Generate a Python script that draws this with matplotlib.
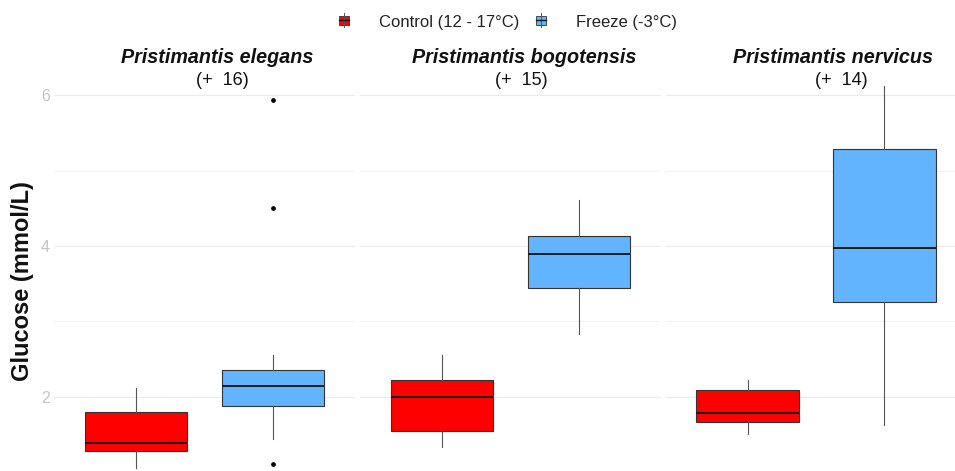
import matplotlib
matplotlib.use("Agg")
import matplotlib.pyplot as plt
from matplotlib.patches import Rectangle
from matplotlib.lines import Line2D

# ---------------- data ----------------
species = ["Pristimantis elegans", "Pristimantis bogotensis", "Pristimantis nervicus"]
n_labels = ["(+  16)", "(+  15)", "(+  14)"]
treatments = ["Control (12 - 17°C)", "Freeze (-3°C)"]
# per species: [control, freeze]
whislo = [[1.05, 1.44], [1.33, 2.83], [1.50, 1.62]]
q1 = [[1.28, 1.88], [1.55, 3.44], [1.67, 3.26]]
med = [[1.39, 2.14], [2.00, 3.89], [1.79, 3.98]]
q3 = [[1.80, 2.35], [2.22, 4.13], [2.09, 5.29]]
whishi = [[2.11, 2.56], [2.56, 4.61], [2.22, 6.12]]
outliers = [[[], [1.11, 4.50, 5.94]], [[], []], [[], []]]
yticks_major = [2, 4, 6]
yticks_minor = [3, 5]

# ---------------- style ----------------
colors = ["#FF0000", "#63B4FF"]
edge = "#333333"
FONT = "Liberation Sans"
W, H = 955, 471

fig = plt.figure(figsize=(W / 100, H / 100), dpi=100)

panel_left = [54, 360, 665.5]
panel_w = 301
top_px, bot_px = 84.8, 479.6
title_x = [217.5, 524.3, 832.7]
sub_x = [222, 521.7, 841.5]

for i, sp in enumerate(species):
    ax = fig.add_axes([panel_left[i] / W, 1 - bot_px / H, panel_w / W, (bot_px - top_px) / H])
    stats = []
    for j in range(2):
        stats.append(dict(whislo=whislo[i][j], q1=q1[i][j], med=med[i][j], q3=q3[i][j],
                          whishi=whishi[i][j], fliers=outliers[i][j]))
    bp = ax.bxp(stats, positions=[1, 2], widths=0.75, patch_artist=True, showcaps=False,
                showfliers=True,
                boxprops=dict(edgecolor=edge, linewidth=0.8),
                medianprops=dict(color="#1a1a1a", linewidth=1.4),
                whiskerprops=dict(color="#555555", linewidth=0.8),
                flierprops=dict(marker="o", markersize=2.4, markerfacecolor="black",
                                markeredgecolor="black", linestyle="none"))
    for patch, c in zip(bp["boxes"], colors):
        patch.set_facecolor(c)
    ax.set_xlim(0.4, 2.6)
    ax.set_ylim(0.9, 6.14)
    ax.set_yticks(yticks_major)
    ax.set_yticks(yticks_minor, minor=True)
    ax.set_xticks([])
    ax.set_axisbelow(True)
    ax.grid(which="major", axis="y", color="#ebebeb", linewidth=0.9)
    ax.grid(which="minor", axis="y", color="#f2f2f2", linewidth=0.7)
    for s in ax.spines.values():
        s.set_visible(False)
    ax.tick_params(axis="y", which="both", length=0, pad=3, labelcolor="#c4c4c4",
                   labelsize=11.5)
    if i == 0:
        for lab in ax.get_yticklabels():
            lab.set_fontfamily(FONT)
    else:
        ax.set_yticklabels([])
    fig.text(title_x[i] / W, 1 - 63.3 / H, sp, fontfamily=FONT, fontweight="bold",
             fontstyle="italic", fontsize=14.2, ha="center", va="baseline", color="#111111")
    fig.text(sub_x[i] / W, 1 - 85 / H, n_labels[i], fontfamily=FONT, fontsize=13,
             ha="center", va="baseline", color="#111111")

fig.text(23 / W, 1 - 281 / H, "Glucose (mmol/L)", rotation=90, fontfamily=FONT,
         fontweight="bold", fontsize=17, ha="center", va="center", color="#111111")

# legend
key_x = [344, 541]
text_x = [379, 576]
for k in range(2):
    cx, cy = key_x[k], 20
    fig.add_artist(Line2D([cx / W, cx / W], [1 - (cy - 7) / H, 1 - (cy + 7) / H],
                          transform=fig.transFigure, color="#555555", lw=0.7))
    fig.add_artist(Rectangle(((cx - 5) / W, 1 - (cy + 4.5) / H), 10 / W, 9 / H,
                             transform=fig.transFigure, facecolor=colors[k],
                             edgecolor=edge, lw=0.6))
    fig.add_artist(Line2D([(cx - 5) / W, (cx + 5) / W], [1 - cy / H, 1 - cy / H],
                          transform=fig.transFigure, color="#1a1a1a", lw=1.0))
    fig.text(text_x[k] / W, 1 - 26.7 / H, treatments[k], fontfamily=FONT, fontsize=12,
             ha="left", va="baseline", color="#222222")

fig.savefig("out.png", dpi=100)
